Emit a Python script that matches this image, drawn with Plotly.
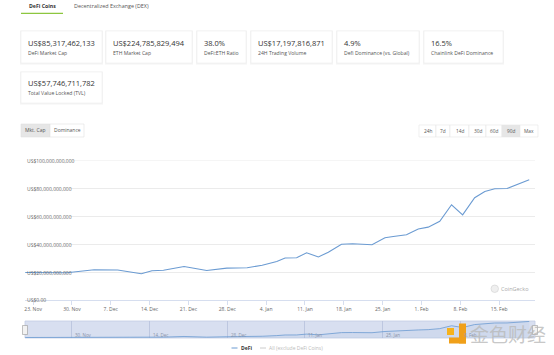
import plotly.graph_objects as go

W, H = 554, 355

# ---------------- data ----------------
dates = ["2020-11-21 14:00", "2020-11-29 02:00", "2020-12-04 00:00", "2020-12-08 06:00",
         "2020-12-12 12:00", "2020-12-14 10:00", "2020-12-16 12:00", "2020-12-20 05:00",
         "2020-12-24 07:00", "2020-12-27 22:00", "2020-12-31 14:00", "2021-01-03 07:00",
         "2021-01-05 22:00", "2021-01-07 10:00", "2021-01-09 12:00", "2021-01-11 07:00",
         "2021-01-13 10:00", "2021-01-15 05:00", "2021-01-17 14:00", "2021-01-19 14:00",
         "2021-01-23 02:00", "2021-01-25 10:00", "2021-01-26 22:00", "2021-01-29 07:00",
         "2021-01-31 10:00", "2021-02-02 05:00", "2021-02-04 07:00", "2021-02-06 10:00",
         "2021-02-08 10:00", "2021-02-10 14:00", "2021-02-12 10:00", "2021-02-14 05:00",
         "2021-02-16 10:00", "2021-02-18 05:00", "2021-02-20 10:00"]
defi_mcap_bn = [20.0, 19.8, 22.0, 21.8, 19.1, 21.3, 21.6, 24.3, 21.4, 23.1, 23.4, 25.2,
                27.9, 30.4, 30.5, 34.1, 31.1, 34.5, 40.2, 40.5, 39.8, 44.8, 45.7, 46.9,
                51.1, 52.4, 56.6, 68.4, 61.2, 73.4, 77.9, 79.8, 80.0, 82.6, 86.2]

x_range = ["2020-11-21 13:00", "2021-02-21 11:00"]
xtick_dates = ["2020-11-23", "2020-11-30", "2020-12-07", "2020-12-14", "2020-12-21",
               "2020-12-28", "2021-01-04", "2021-01-11", "2021-01-18", "2021-01-25",
               "2021-02-01", "2021-02-08", "2021-02-15"]
xtick_labels = ["23. Nov", "30. Nov", "7. Dec", "14. Dec", "21. Dec", "28. Dec", "4. Jan",
                "11. Jan", "18. Jan", "25. Jan", "1. Feb", "8. Feb", "15. Feb"]
ytick_values = [0, 20, 40, 60, 80, 100]
ytick_labels = ["US$0.00", "US$20,000,000,000", "US$40,000,000,000", "US$60,000,000,000",
                "US$80,000,000,000", "US$100,000,000,000"]
nav_tick_dates = ["2020-11-30", "2020-12-14", "2020-12-28", "2021-01-11", "2021-01-25", "2021-02-08"]
nav_tick_labels = ["30. Nov", "14. Dec", "28. Dec", "11. Jan", "25. Jan", "8. Feb"]

tab_labels = ["DeFi Coins", "Decentralized Exchange (DEX)"]
card_values = ["US$85,317,462,133", "US$224,785,829,494", "38.0%", "US$17,197,816,871",
               "4.9%", "16.5%", "US$57,746,711,782"]
card_labels = ["DeFi Market Cap", "ETH Market Cap", "DeFi:ETH Ratio", "24H Trading Volume",
               "Defi Dominance (vs. Global)", "Chainlink DeFi Dominance", "Total Value Locked (TVL)"]
chart_buttons = ["Mkt. Cap", "Dominance"]
range_buttons = ["24h", "7d", "14d", "30d", "60d", "90d", "Max"]
legend_labels = ["DeFi", "All (exclude DeFi Coins)"]

# ---------------- helpers ----------------
def px(x):
    return x / W

def py(y):
    return 1 - y / H

FONT = "Open Sans"
LINE = "#6b9bd2"

fig = go.Figure()
fig.add_trace(go.Scatter(x=dates, y=defi_mcap_bn, mode="lines",
                         line=dict(color=LINE, width=1.1), hoverinfo="skip",
                         showlegend=False, xaxis="x", yaxis="y"))
fig.add_trace(go.Scatter(x=dates, y=defi_mcap_bn, mode="lines",
                         line=dict(color=LINE, width=0.8), fill="tozeroy",
                         fillcolor="rgba(107,155,210,0.08)", hoverinfo="skip",
                         showlegend=False, xaxis="x2", yaxis="y2"))

shapes = []
ann = []

def rect(x0, y0, x1, y1, fill, line=None, lw=0.8, layer="above"):
    shapes.append(dict(type="rect", xref="paper", yref="paper",
                       x0=px(x0), x1=px(x1), y0=py(y1), y1=py(y0),
                       fillcolor=fill, line=dict(color=line or fill, width=lw if line else 0),
                       layer=layer))

def text(x, y, s, size=5, color="#555", xanchor="left", bold=False, fam=FONT, **kw):
    ann.append(dict(xref="paper", yref="paper", x=px(x), y=py(y), text=(f"<b>{s}</b>" if bold else s),
                    showarrow=False, xanchor=xanchor, yanchor="middle",
                    font=dict(size=size, color=color, family=fam), borderpad=0, **kw))

# tabs
text(28, 6.5, tab_labels[0], size=5.2, color="#333", bold=True)
text(73, 6.5, tab_labels[1], size=5.4, color="#555")
shapes.append(dict(type="line", xref="paper", yref="paper", x0=px(21), x1=px(63),
                   y0=py(13.3), y1=py(13.3), line=dict(color="#8dc63f", width=1.2)))

# cards
card_boxes = [(21, 31, 102, 63), (106, 31, 192, 63), (197, 31, 246, 63), (251, 31, 332, 63),
              (337, 31, 419, 63), (424, 31, 503, 63), (21, 72, 102, 103)]
for (x0, y0, x1, y1), v, lab in zip(card_boxes, card_values, card_labels):
    rect(x0 - 1, y0 - 0.5, x1 + 1, y1 + 1.5, "#f4f4f4", layer="below")
    rect(x0, y0, x1, y1, "white", "#eeeeee", 0.6, layer="below")
    vy = y0 + 12 if y0 < 50 else y0 + 11
    text(x0 + 6, vy, v, size=7.5, color="#333")
    text(x0 + 6, vy + 9.5, lab, size=5.1, color="#555")

# chart type buttons
btn_x = [(21, 50), (50, 84)]
for i, ((x0, x1), lab) in enumerate(zip(btn_x, chart_buttons)):
    rect(x0, 124, x1, 137, "#e6e6e6" if i == 0 else "white", "#e0e0e0", 0.6, layer="below")
    text((x0 + x1) / 2, 130.5, lab, size=5, color="#555", xanchor="center")

# range buttons
rb_edges = [419, 436, 450, 469, 486, 502, 520, 538]
for i, lab in enumerate(range_buttons):
    x0, x1 = rb_edges[i], rb_edges[i + 1]
    rect(x0, 125, x1, 137, "#e6e6e6" if lab == "90d" else "white", "#e6e6e6", 0.6, layer="below")
    text((x0 + x1) / 2, 131, lab, size=4.8, color="#555", xanchor="center")

# y gridlines + labels (labels sit on the line, left aligned inside plot)
for v, lab in zip(ytick_values, ytick_labels):
    ann.append(dict(xref="paper", yref="y", x=px(25), y=v, text=lab, showarrow=False,
                    xanchor="left", yanchor="middle", yshift=-0.5 if v else 1,
                    font=dict(size=5, color="#666", family=FONT)))
    if v > 0:
        x0 = 25 + len(lab) * 2.6 + 1
        shapes.append(dict(type="line", xref="paper", yref="y", x0=px(x0), x1=px(535),
                           y0=v, y1=v, line=dict(color="#e6e6e6", width=0.8), layer="below"))

# CoinGecko watermark
shapes.append(dict(type="circle", xref="paper", yref="paper", x0=px(491), x1=px(498.5),
                   y0=py(292.5), y1=py(285), fillcolor="#efefef", line=dict(color="#d0d0d0", width=0.6)))
text(500, 288.7, "CoinGecko", size=5.5, color="#aaa")

# navigator
rect(25, 321, 535, 338, "#d8dff0", "#c3cce3", 0.8, layer="below")
for d, lab in zip(nav_tick_dates, nav_tick_labels):
    ann.append(dict(xref="x2", yref="paper", x=d, y=py(335), text=lab, showarrow=False,
                    xanchor="left", yanchor="middle", xshift=1.5,
                    font=dict(size=4.5, color="#8a93a8", family=FONT)))
rect(22.5, 325.5, 27.5, 334.5, "#f2f2f2", "#999", 0.6)
rect(532.5, 325.5, 537.5, 334.5, "#f2f2f2", "#999", 0.6)

# legend
shapes.append(dict(type="line", xref="paper", yref="paper", x0=px(231.5), x1=px(237.5),
                   y0=py(348), y1=py(348), line=dict(color=LINE, width=1)))
text(239.5, 348, legend_labels[0], size=5, color="#333", bold=True)
shapes.append(dict(type="line", xref="paper", yref="paper", x0=px(260), x1=px(266),
                   y0=py(348), y1=py(348), line=dict(color="#cccccc", width=1)))
text(268, 348, legend_labels[1], size=5, color="#bbbbbb")

# 金色财经 watermark
rect(447, 328, 454, 335, "#f6b21b")
rect(459, 323.5, 466, 343.5, "#f0a01a")
rect(449, 337.5, 466, 343.5, "#f0a01a")
text(469, 333, "金色财经", size=19, color="rgba(185,185,185,0.8)", fam="Noto Sans CJK SC")

fig.update_layout(
    width=W, height=H, autosize=False,
    margin=dict(l=0, r=0, t=0, b=0),
    paper_bgcolor="white", plot_bgcolor="rgba(0,0,0,0)",
    showlegend=False,
    xaxis=dict(domain=[px(25), px(535)], range=x_range, type="date", anchor="y",
               tickvals=xtick_dates, ticktext=xtick_labels, ticks="outside", ticklen=4,
               tickcolor="#ccd6eb", tickwidth=0.8, showline=True, linecolor="#ccd6eb",
               linewidth=0.8, showgrid=False, zeroline=False,
               tickfont=dict(size=5, color="#666", family=FONT), fixedrange=True),
    yaxis=dict(domain=[py(300.5), py(160.5)], range=[0, 100], visible=False, fixedrange=True),
    xaxis2=dict(domain=[px(25), px(535)], range=x_range, type="date", anchor="y2",
                tickvals=nav_tick_dates, showticklabels=False, showgrid=True,
                gridcolor="#b7c1dc", gridwidth=0.8, showline=False, zeroline=False,
                fixedrange=True),
    yaxis2=dict(domain=[py(338), py(321)], range=[18, 88], visible=False, fixedrange=True),
    shapes=shapes, annotations=ann,
    font=dict(family=FONT),
)

fig.write_html("out.html", config={"displayModeBar": False, "staticPlot": True},
               post_script="document.body.style.margin='0';document.body.style.overflow='hidden';")
